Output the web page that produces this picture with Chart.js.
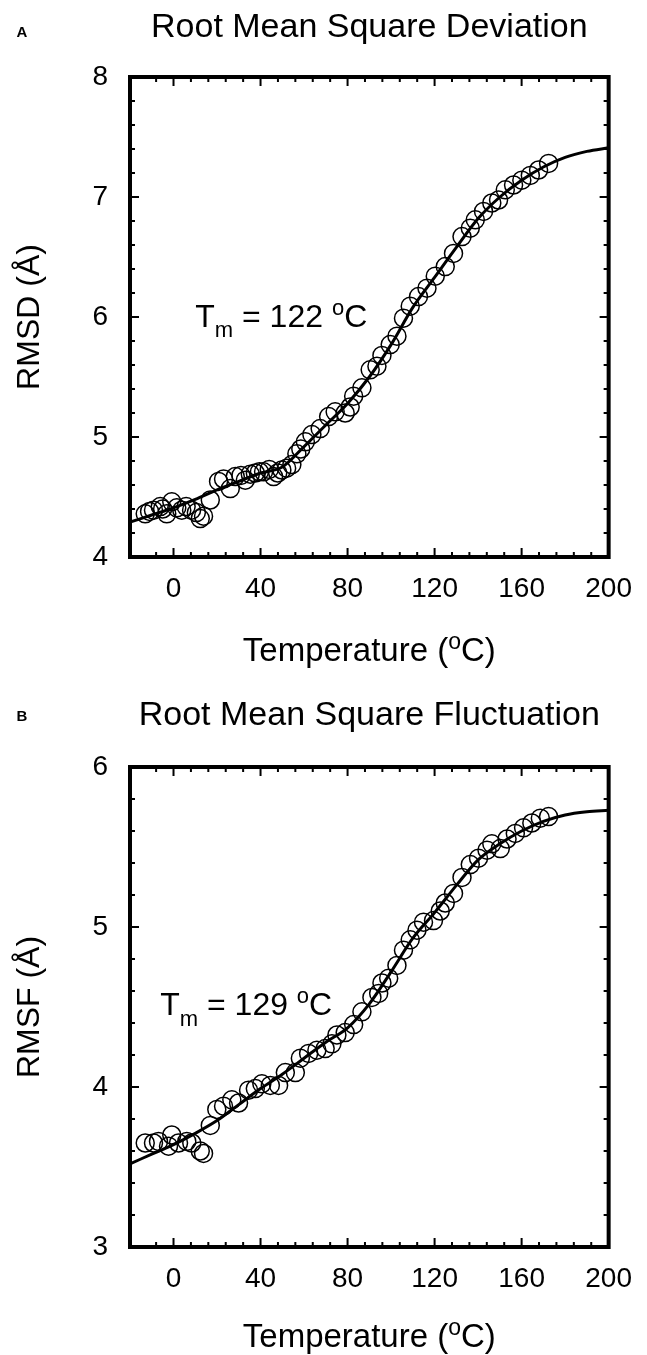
<!DOCTYPE html>
<html>
<head>
<meta charset="utf-8">
<script src="https://cdn.jsdelivr.net/npm/chart.js"></script>
<style>
  body { margin: 0; background: #fff; }
  .painel { position: absolute; left: 0; width: 647px; }
</style>
</head>
<body>
<div class="painel" style="top:0;height:680px"><canvas id="graficoA"></canvas></div>
<div class="painel" style="top:690px;height:665px"><canvas id="graficoB"></canvas></div>
<script>
// pontos (temperatura em oC)
const tempA = [-13, -11, -9.2, -6.1, -5, -3.1, -0.8, 1.5, 3.8, 5.8, 8.3, 10.5, 12.3, 13.8, 16.9, 20.7, 23, 26.1, 28.4, 31, 33, 35.3, 37.6, 39.5, 41.4, 44, 46, 47.9, 49.8, 52, 54.4, 56.7, 58.5, 60.6, 63.6, 67.4, 71.3, 74.3, 78.9, 81.2, 82.8, 86.6, 90.4, 93.5, 95.8, 99.6, 102.7, 105.7, 108.8, 112.6, 116.5, 120.3, 124.9, 128.7, 132.6, 136.4, 138.7, 142.5, 146.3, 149.4, 152.5, 156.3, 160.1, 164, 167.8, 172.4];
const rmsd = [4.36, 4.38, 4.39, 4.42, 4.40, 4.36, 4.46, 4.41, 4.39, 4.42, 4.39, 4.37, 4.32, 4.34, 4.475, 4.63, 4.65, 4.57, 4.67, 4.68, 4.64, 4.69, 4.70, 4.71, 4.71, 4.73, 4.67, 4.70, 4.725, 4.74, 4.77, 4.86, 4.90, 4.96, 5.02, 5.07, 5.17, 5.21, 5.20, 5.25, 5.34, 5.41, 5.56, 5.59, 5.68, 5.77, 5.84, 5.99, 6.09, 6.17, 6.24, 6.34, 6.42, 6.53, 6.67, 6.74, 6.81, 6.88, 6.95, 6.975, 7.06, 7.10, 7.14, 7.18, 7.225, 7.28];

const tempB = [-13, -9.2, -6.9, -2.3, -0.8, 2.3, 6.1, 8.4, 12.3, 13.8, 16.9, 19.9, 23, 26.8, 29.9, 34.5, 37.6, 40.6, 44.5, 48.3, 51.4, 56, 58.3, 62.1, 65.9, 69.7, 72.8, 75.1, 78.9, 82.8, 86.6, 91.2, 94.3, 95.8, 98.9, 102.7, 105.7, 108.8, 111.9, 114.9, 119.5, 122.6, 124.9, 128.7, 132.6, 136.4, 140.2, 144.1, 146.3, 150.2, 153.3, 157.1, 160.9, 164.7, 168.6, 172.4];
const rmsf = [3.65, 3.65, 3.66, 3.63, 3.70, 3.65, 3.66, 3.65, 3.60, 3.585, 3.76, 3.86, 3.88, 3.92, 3.90, 3.98, 3.99, 4.02, 4.01, 4.01, 4.09, 4.09, 4.18, 4.21, 4.23, 4.24, 4.27, 4.325, 4.34, 4.39, 4.47, 4.56, 4.585, 4.65, 4.68, 4.76, 4.855, 4.92, 4.98, 5.03, 5.04, 5.10, 5.15, 5.21, 5.31, 5.39, 5.43, 5.48, 5.52, 5.49, 5.55, 5.585, 5.62, 5.65, 5.68, 5.69];

// curva ajustada, lida a cada 10 graus
const tempCurva = [-20, -10, 0, 10, 20, 30, 40, 50, 60, 70, 80, 90, 100, 110, 120, 130, 140, 150, 160, 170, 180, 190, 200];
const curvaA = [4.29, 4.35, 4.41, 4.48, 4.56, 4.63, 4.70, 4.75, 4.92, 5.10, 5.28, 5.50, 5.77, 6.08, 6.33, 6.58, 6.82, 7.00, 7.14, 7.25, 7.33, 7.38, 7.41];
const curvaB = [3.52, 3.58, 3.64, 3.71, 3.79, 3.89, 3.99, 4.08, 4.18, 4.28, 4.37, 4.52, 4.72, 4.93, 5.09, 5.26, 5.42, 5.52, 5.60, 5.66, 5.70, 5.72, 5.73];

const titulos = ["Root Mean Square Deviation", "Root Mean Square Fluctuation"];
const letras = ["A", "B"];
const eixoY = ["RMSD (Å)", "RMSF (Å)"];
const tm = ["122", "129"];

const fonte = "'Liberation Sans', Arial, Helvetica, sans-serif";

// escreve texto com sub/sobrescrito: partes = [[texto, "" | "sub" | "sup"], ...]
function textoRico(ctx, partes, x, y, tam, centro) {
  const peq = Math.round(tam * 0.7);
  let largura = 0;
  partes.forEach(p => {
    ctx.font = (p[1] ? peq : tam) + "px " + fonte;
    largura += ctx.measureText(p[0]).width;
  });
  let cx = centro ? x - largura / 2 : x;
  ctx.textAlign = "left";
  ctx.textBaseline = "alphabetic";
  partes.forEach(p => {
    ctx.font = (p[1] ? peq : tam) + "px " + fonte;
    let dy = 0;
    if (p[1] === "sub") dy = tam * 0.34;
    if (p[1] === "sup") dy = -tam * 0.36;
    ctx.fillText(p[0], cx, y + dy);
    cx += ctx.measureText(p[0]).width;
  });
}

const moldura = {
  id: "moldura",
  afterDatasetsDraw(chart, args, op) {
    const { ctx, chartArea: a, scales } = chart;
    const sx = scales.x, sy = scales.y;
    ctx.save();
    ctx.strokeStyle = "#000";
    ctx.fillStyle = "#000";

    // tracinhos para dentro nos 4 lados
    ctx.lineWidth = 2;
    ctx.beginPath();
    sx.ticks.forEach(t => {
      const px = sx.getPixelForValue(t.value);
      const len = t.value % 40 === 0 ? 9 : 5;
      ctx.moveTo(px, a.bottom); ctx.lineTo(px, a.bottom - len);
      ctx.moveTo(px, a.top); ctx.lineTo(px, a.top + len);
    });
    sy.ticks.forEach(t => {
      const py = sy.getPixelForValue(t.value);
      const len = Math.abs(t.value - Math.round(t.value)) < 1e-6 ? 9 : 5;
      ctx.moveTo(a.left, py); ctx.lineTo(a.left + len, py);
      ctx.moveTo(a.right, py); ctx.lineTo(a.right - len, py);
    });
    ctx.stroke();

    ctx.lineWidth = 4;
    ctx.strokeRect(a.left, a.top, a.right - a.left, a.bottom - a.top);

    // titulo e letra do painel
    ctx.font = "34px " + fonte;
    ctx.textAlign = "center";
    ctx.textBaseline = "middle";
    ctx.fillText(op.titulo, (a.left + a.right) / 2, op.tituloY);
    ctx.font = "bold 15px " + fonte;
    ctx.fillText(op.letra, 22, op.letraY);

    // titulo do eixo x
    textoRico(ctx, [["Temperature (", ""], ["o", "sup"], ["C)", ""]],
      (a.left + a.right) / 2, a.bottom + op.eixoXDist, 33, true);

    // anotacao Tm
    textoRico(ctx, [["T", ""], ["m", "sub"], [" = " + op.tm + " ", ""], ["o", "sup"], ["C", ""]],
      sx.getPixelForValue(op.tmX), sy.getPixelForValue(op.tmY), 32, false);
    ctx.restore();
  }
};

function grafico(id, temps, valores, curva, yMin, yMax, i, extra) {
  const alturaTotal = i === 0 ? 680 : 665;
  new Chart(document.getElementById(id), {
    type: "scatter",
    data: {
      datasets: [
        {
          data: tempCurva.map((t, k) => ({ x: t, y: curva[k] })),
          showLine: true,
          borderColor: "#000",
          borderWidth: 3,
          pointRadius: 0,
          cubicInterpolationMode: "monotone",
        },
        {
          data: temps.map((t, k) => ({ x: t, y: valores[k] })),
          pointRadius: 9,
          pointBorderWidth: 1.5,
          pointBorderColor: "#000",
          pointBackgroundColor: "rgba(0,0,0,0)",
        },
      ],
    },
    options: {
      responsive: true,
      maintainAspectRatio: false,
      animation: false,
      layout: { padding: { top: 77, right: 37, left: 0, bottom: 0 } },
      plugins: {
        legend: { display: false },
        tooltip: { enabled: false },
        moldura: Object.assign({ titulo: titulos[i], letra: letras[i], tm: tm[i] }, extra),
      },
      scales: {
        x: {
          type: "linear",
          min: -20,
          max: 200,
          border: { display: false },
          grid: { display: false, drawTicks: false },
          ticks: {
            stepSize: 8,
            autoSkip: false,
            maxRotation: 0,
            minRotation: 0,
            padding: 15,
            color: "#000",
            font: { size: 28, family: fonte },
            callback: v => (v % 40 === 0 ? String(v) : ""),
          },
          afterFit: s => { s.height = alturaTotal - 557; },
        },
        y: {
          min: yMin,
          max: yMax,
          border: { display: false },
          grid: { display: false, drawTicks: false },
          title: {
            display: true,
            text: eixoY[i],
            color: "#000",
            font: { size: 32, family: fonte },
            padding: { top: 11, bottom: 0 },
          },
          ticks: {
            stepSize: 0.2,
            autoSkip: false,
            padding: 22,
            color: "#000",
            font: { size: 28, family: fonte },
            callback: v => (Math.abs(v - Math.round(v)) < 1e-6 ? String(Math.round(v)) : ""),
          },
          afterFit: s => { s.width = 130; },
        },
      },
    },
    plugins: [moldura],
  });
}

grafico("graficoA", tempA, rmsd, curvaA, 4, 8, 0,
  { tituloY: 28, letraY: 33, eixoXDist: 104, tmX: 10, tmY: 5.92 });
grafico("graficoB", tempB, rmsf, curvaB, 3, 6, 1,
  { tituloY: 26, letraY: 27, eixoXDist: 100, tmX: -6.1, tmY: 4.45 });
</script>
</body>
</html>
